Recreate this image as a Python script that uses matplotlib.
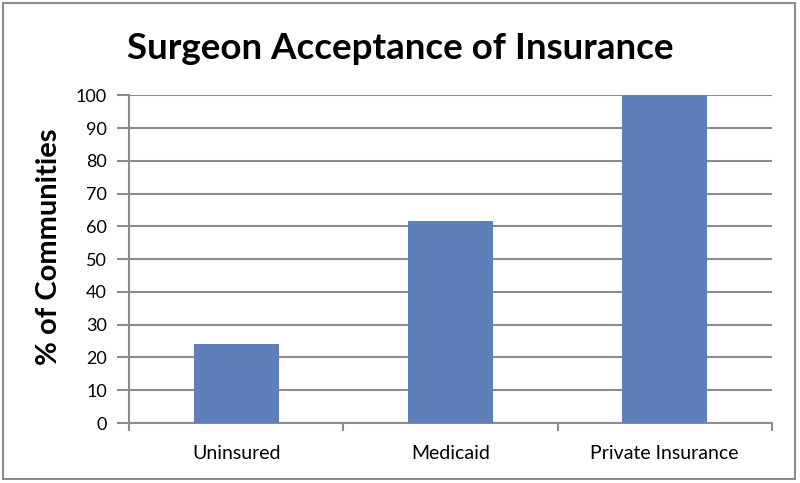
import matplotlib.pyplot as plt
from matplotlib.patches import Rectangle

categories = ["Uninsured", "Medicaid", "Private Insurance"]
values = [24, 61.5, 100]
yticks = list(range(0, 101, 10))

plt.rcParams["font.family"] = ["Lato", "DejaVu Sans"]

fig = plt.figure(figsize=(8, 4.83), dpi=100)
ax = fig.add_axes([0.1616, 0.1242, 0.8030, 0.6785])

# Bars
x = list(range(len(categories)))
ax.bar(x, values, width=0.4, color="#5f7fba", zorder=3)

ax.set_xlim(-0.5, 2.5)
ax.set_ylim(0, 100)
ax.set_yticks(yticks)
ax.set_yticklabels([str(t) for t in yticks], fontsize=13)
ax.set_xticks(x)
ax.set_xticklabels(categories, fontsize=14)
ax.tick_params(axis="x", length=0, pad=16)
ax.tick_params(axis="y", length=9, width=1.5, color="#8c8c8c", pad=7)

# Category separator ticks below x axis
for b in [-0.5, 0.5, 1.5, 2.5]:
    ax.plot([b, b], [0, -2.2], color="#8c8c8c", lw=1.5, clip_on=False, zorder=4)

ax.yaxis.grid(True, color="#8c8c8c", lw=1.5, zorder=0)
for s in ["top", "right"]:
    ax.spines[s].set_visible(False)
for s in ["left", "bottom"]:
    ax.spines[s].set_color("#8c8c8c")
    ax.spines[s].set_linewidth(1.5)

# Y label and title
fig.text(0.061, 0.49, "% of Communities", rotation=90, ha="center", va="center",
         fontsize=21, fontweight="bold")
fig.text(0.5, 0.899, "Surgeon Acceptance of Insurance", ha="center", va="center",
         fontsize=26.5, fontweight="bold")

# Outer frame
fig.patches.append(Rectangle((0.004, 0.008), 0.99, 0.985, transform=fig.transFigure,
                             fill=False, edgecolor="#8c8c8c", lw=1.5))

fig.savefig("out.png", dpi=100)
